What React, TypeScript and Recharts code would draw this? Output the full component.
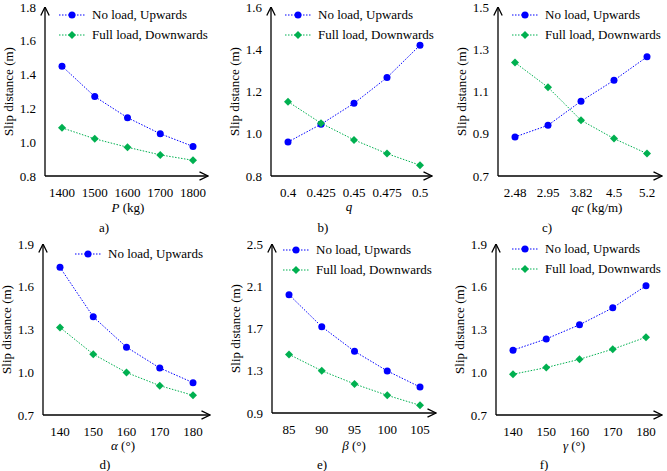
import React from "react";
import { LineChart, Line, XAxis, YAxis, Legend } from "recharts";

const BLUE = "#0000ff";
const GREEN = "#00b050";
const FONT = '"Liberation Serif", "DejaVu Serif", serif';

// a) P (kg)
const pCats = ["1400", "1500", "1600", "1700", "1800"];
const pNoLoad = [1.45, 1.27, 1.145, 1.05, 0.975];
const pFullLoad = [1.085, 1.02, 0.97, 0.925, 0.893];
const pTicks = [0.8, 1.0, 1.2, 1.4, 1.6, 1.8];

// b) q
const qCats = ["0.4", "0.425", "0.45", "0.475", "0.5"];
const qNoLoad = [0.961, 1.045, 1.144, 1.266, 1.419];
const qFullLoad = [1.152, 1.05, 0.971, 0.906, 0.851];
const qTicks = [0.8, 1.0, 1.2, 1.4, 1.6];

// c) qc (kg/m)
const qcCats = ["2.48", "2.95", "3.82", "4.5", "5.2"];
const qcNoLoad = [0.885, 0.94, 1.054, 1.153, 1.264];
const qcFullLoad = [1.237, 1.12, 0.964, 0.877, 0.806];
const qcTicks = [0.7, 0.9, 1.1, 1.3, 1.5];

// d) alpha
const alphaCats = ["140", "150", "160", "170", "180"];
const alphaNoLoad = [1.736, 1.389, 1.176, 1.03, 0.927];
const alphaFullLoad = [1.314, 1.127, 0.998, 0.906, 0.838];
const alphaTicks = [0.7, 1.0, 1.3, 1.6, 1.9];

// e) beta
const betaCats = ["85", "90", "95", "100", "105"];
const betaNoLoad = [2.02, 1.717, 1.484, 1.298, 1.146];
const betaFullLoad = [1.455, 1.3, 1.175, 1.067, 0.973];
const betaTicks = [0.9, 1.3, 1.7, 2.1, 2.5];

// f) gamma
const gammaCats = ["140", "150", "160", "170", "180"];
const gammaNoLoad = [1.155, 1.234, 1.333, 1.452, 1.607];
const gammaFullLoad = [0.986, 1.033, 1.091, 1.162, 1.246];
const gammaTicks = [0.7, 1.0, 1.3, 1.6, 1.9];

const seriesNames = ["No load, Upwards", "Full load, Downwards"];

const Diamond = (props: any) => {
  const { cx, cy, index } = props;
  const r = 4;
  if (cx == null || cy == null) return <g key={`dm-${index}`} />;
  return (
    <path
      key={`dm-${index}`}
      d={`M${cx},${cy - r}L${cx + r},${cy}L${cx},${cy + r}L${cx - r},${cy}Z`}
      fill={GREEN}
    />
  );
};

const LegendSwatch = ({ color, diamond }: { color: string; diamond: boolean }) => (
  <svg width={26} height={10} style={{ display: "block" }}>
    <line x1={0} y1={5} x2={26} y2={5} stroke={color} strokeWidth={1} strokeDasharray="1.5 1.5" />
    {diamond ? (
      <path d="M13,1L17,5L13,9L9,5Z" fill={color} />
    ) : (
      <circle cx={13} cy={5} r={3.5} fill={color} />
    )}
  </svg>
);

type PanelProps = {
  id: string;
  left: number;
  top: number;
  width: number;
  plotLeft: number;
  plotRight: number;
  plotTop: number;
  plotBottom: number;
  padLeft: number;
  padRight: number;
  cats: string[];
  noLoad: number[];
  fullLoad: number[];
  yTicks: number[];
  xTitle: React.ReactNode;
  xTitleX: number;
  xTitleY: number;
  caption: string;
  captionX: number;
  captionY: number;
  legendX: number;
  legendY: number;
  legendRows: number;
};

function Panel(p: PanelProps) {
  const data = p.cats.map((c, i) => ({ cat: c, noLoad: p.noLoad[i], fullLoad: p.fullLoad[i] }));
  const chartH = p.plotBottom + 30;
  const markerId = `arrow-${p.id}`;
  const items = seriesNames.slice(0, p.legendRows);
  return (
    <div style={{ position: "absolute", left: p.left, top: p.top, width: p.width, height: 235 }}>
      <LineChart
        width={p.width}
        height={chartH}
        data={data}
        margin={{ top: p.plotTop, right: p.width - p.plotRight, left: 0, bottom: 0 }}
        style={{ fontFamily: FONT }}
      >
        <defs>
          <marker
            id={markerId}
            viewBox="0 0 10 10"
            refX={9.5}
            refY={5}
            markerWidth={10}
            markerHeight={10}
            markerUnits="userSpaceOnUse"
            orient="auto-start-reverse"
          >
            <path d="M1,0.8 L9.5,5 L1,9.2" fill="none" stroke="#000" strokeWidth={1.3} />
          </marker>
        </defs>
        <XAxis
          dataKey="cat"
          type="category"
          height={30}
          interval={0}
          padding={{ left: p.padLeft, right: p.padRight }}
          tickLine={false}
          tickMargin={6}
          tick={{ fontSize: 13, fill: "#000", fontFamily: FONT }}
          axisLine={{ stroke: "#000", strokeWidth: 1.3, markerEnd: `url(#${markerId})` } as any}
        />
        <YAxis
          width={p.plotLeft}
          domain={[p.yTicks[0], p.yTicks[p.yTicks.length - 1]]}
          ticks={p.yTicks}
          interval={0}
          allowDataOverflow
          tickLine={false}
          tickMargin={3}
          tickFormatter={(v: number) => v.toFixed(1)}
          tick={{ fontSize: 13, fill: "#000", fontFamily: FONT }}
          axisLine={{ stroke: "#000", strokeWidth: 1.3, markerStart: `url(#${markerId})` } as any}
          label={{
            value: "Slip distance (m)",
            angle: -90,
            position: "insideLeft",
            offset: p.plotLeft - 37,
            style: { textAnchor: "middle", fontSize: 13, fill: "#000", fontFamily: FONT },
          }}
        />
        <Legend
          layout="horizontal"
          align="center"
          verticalAlign="middle"
          wrapperStyle={{ left: p.legendX, top: p.legendY - 10, right: "auto", bottom: "auto", width: "auto", height: "auto" }}
          content={() => (
            <div style={{ fontFamily: FONT, fontSize: 13, color: "#000" }}>
              {items.map((name, i) => (
                <div key={name} style={{ display: "flex", alignItems: "center", height: 20, whiteSpace: "nowrap" }}>
                  <LegendSwatch color={i === 0 ? BLUE : GREEN} diamond={i === 1} />
                  <span style={{ marginLeft: 7 }}>{name}</span>
                </div>
              ))}
            </div>
          )}
        />
        <Line
          dataKey="noLoad"
          name={seriesNames[0]}
          type="linear"
          stroke={BLUE}
          strokeWidth={1}
          strokeDasharray="1.5 1.5"
          dot={{ r: 3.5, fill: BLUE, stroke: BLUE, strokeWidth: 0 }}
          isAnimationActive={false}
        />
        <Line
          dataKey="fullLoad"
          name={seriesNames[1]}
          type="linear"
          stroke={GREEN}
          strokeWidth={1}
          strokeDasharray="1.5 1.5"
          dot={Diamond}
          isAnimationActive={false}
        />
      </LineChart>
      <div
        style={{
          position: "absolute",
          left: p.xTitleX,
          top: p.xTitleY - 8,
          transform: "translateX(-50%)",
          fontSize: 13,
          lineHeight: "16px",
          whiteSpace: "nowrap",
        }}
      >
        {p.xTitle}
      </div>
      <div
        style={{
          position: "absolute",
          left: p.captionX,
          top: p.captionY - 8,
          transform: "translateX(-50%)",
          fontSize: 13,
          lineHeight: "16px",
        }}
      >
        {p.caption}
      </div>
    </div>
  );
}

export default function App() {
  return (
    <div style={{ position: "relative", width: 667, height: 471, background: "#fff", fontFamily: FONT, color: "#000" }}>
      <style>{"body{margin:0}"}</style>
      <Panel
        id="a" left={0} top={0} width={220}
        plotLeft={45} plotRight={208} plotTop={7} plotBottom={176} padLeft={17} padRight={15}
        cats={pCats} noLoad={pNoLoad} fullLoad={pFullLoad} yTicks={pTicks}
        xTitle={<><i>P</i> (kg)</>} xTitleX={128} xTitleY={208}
        caption="a)" captionX={104} captionY={228}
        legendX={59} legendY={15} legendRows={2}
      />
      <Panel
        id="b" left={220} top={0} width={220}
        plotLeft={51} plotRight={212} plotTop={7} plotBottom={176} padLeft={17} padRight={12}
        cats={qCats} noLoad={qNoLoad} fullLoad={qFullLoad} yTicks={qTicks}
        xTitle={<i>q</i>} xTitleX={129} xTitleY={207}
        caption="b)" captionX={103} captionY={228}
        legendX={65} legendY={15} legendRows={2}
      />
      <Panel
        id="c" left={440} top={0} width={227}
        plotLeft={58} plotRight={222} plotTop={7} plotBottom={176} padLeft={17} padRight={15}
        cats={qcCats} noLoad={qcNoLoad} fullLoad={qcFullLoad} yTicks={qcTicks}
        xTitle={<><i>qc</i> (kg/m)</>} xTitleX={157} xTitleY={208}
        caption="c)" captionX={107} captionY={228}
        legendX={72} legendY={15} legendRows={2}
      />
      <Panel
        id="d" left={0} top={235} width={220}
        plotLeft={43} plotRight={210} plotTop={9} plotBottom={180} padLeft={17} padRight={17}
        cats={alphaCats} noLoad={alphaNoLoad} fullLoad={alphaFullLoad} yTicks={alphaTicks}
        xTitle={<><i>α</i> (°)</>} xTitleX={123} xTitleY={211}
        caption="d)" captionX={105} captionY={230}
        legendX={75} legendY={19} legendRows={1}
      />
      <Panel
        id="e" left={220} top={235} width={220}
        plotLeft={52} plotRight={216} plotTop={9} plotBottom={178} padLeft={17} padRight={16}
        cats={betaCats} noLoad={betaNoLoad} fullLoad={betaFullLoad} yTicks={betaTicks}
        xTitle={<><i>β</i> (°)</>} xTitleX={134} xTitleY={211}
        caption="e)" captionX={102} captionY={230}
        legendX={63} legendY={15} legendRows={2}
      />
      <Panel
        id="f" left={440} top={235} width={227}
        plotLeft={56} plotRight={222} plotTop={9} plotBottom={180} padLeft={17} padRight={16}
        cats={gammaCats} noLoad={gammaNoLoad} fullLoad={gammaFullLoad} yTicks={gammaTicks}
        xTitle={<><i>γ</i> (°)</>} xTitleX={134} xTitleY={211}
        caption="f)" captionX={104} captionY={230}
        legendX={72} legendY={14} legendRows={2}
      />
    </div>
  );
}
